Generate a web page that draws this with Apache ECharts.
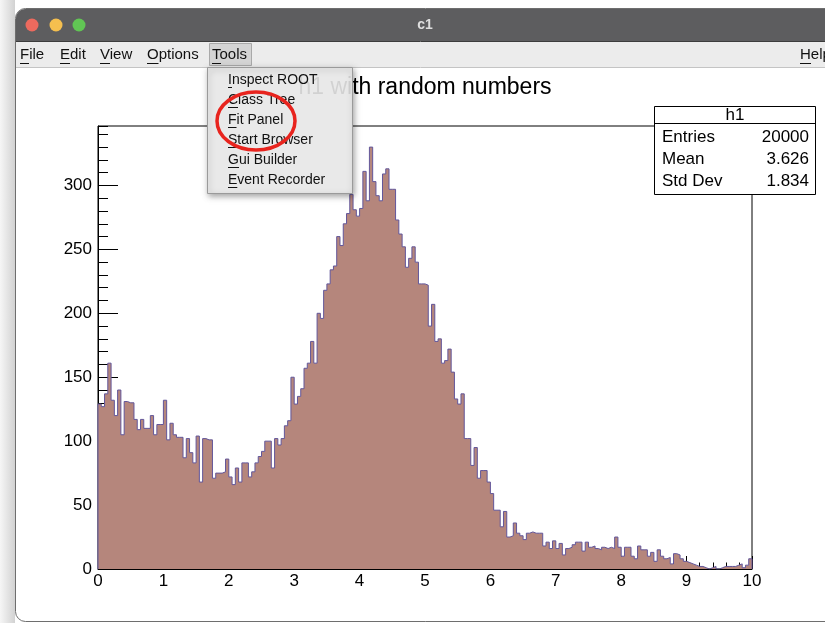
<!DOCTYPE html>
<html>
<head>
<meta charset="utf-8">
<script src="https://cdn.jsdelivr.net/npm/echarts@6/dist/echarts.min.js"></script>
<style>
html,body{margin:0;padding:0;background:#fff;}
#c{width:825px;height:623px;}
</style>
</head>
<body>
<div id="c"></div>
<script>
// ---- data ----
const histTitle = 'h1 with random numbers';
const xMin = 0, xMax = 10, nBins = 200;
const binCounts = [
129,127,137,161,132,120,140,105,131,130,130,117,109,117,110,110,120,105,113,113,
132,101,114,105,103,103,87,102,91,83,104,68,102,101,101,71,75,75,76,86,
72,66,79,68,83,83,72,76,83,88,92,100,100,79,102,97,102,112,116,150,
129,135,141,157,161,178,161,200,196,218,223,234,237,260,253,270,278,293,281,276,
282,311,288,330,303,292,288,309,313,297,297,273,262,252,236,243,252,240,223,223,
222,190,207,178,180,161,163,172,154,133,129,137,102,102,81,95,71,77,77,68,
59,46,46,33,45,25,26,36,28,26,23,28,29,28,28,28,18,21,16,22,
16,20,11,16,17,19,21,21,14,21,17,18,16,15,17,16,17,16,25,17,
10,17,17,10,8,18,15,15,10,13,6,15,10,8,9,4,12,11,8,6,
5,4,3,2,2,1,0,1,2,0,1,2,2,2,2,3,4,1,3,8
];
const xTickValues = [0,1,2,3,4,5,6,7,8,9,10];
const yTickValues = [0,50,100,150,200,250,300];
const statsName = 'h1';
const statsLabels = ['Entries','Mean','Std Dev'];
const statsValues = ['20000','3.626','1.834'];
const menuItems = ['File','Edit','View','Options','Tools'];
const toolsItems = ['Inspect ROOT','Class Tree','Fit Panel','Start Browser','Gui Builder','Event Recorder'];
const windowTitle = 'c1';

// ---- build ----
const binW = (xMax - xMin) / nBins;
const yTop = Math.max(...binCounts) * 1.05;
const stepData = [[xMin, 0]];
binCounts.forEach((v, i) => stepData.push([xMin + i * binW, v]));
stepData.push([xMax, binCounts[nBins - 1]]);
stepData.push([xMax, 0]);

const F = '"Liberation Sans", Arial, Helvetica, sans-serif';
const chart = echarts.init(document.getElementById('c'), null, {renderer: 'canvas'});

const graphics = [];
// shadow strip left of window
graphics.push({type:'rect', z:1, silent:true, shape:{x:0,y:0,width:15,height:623},
  style:{fill:new echarts.graphic.LinearGradient(0,0,1,0,[{offset:0,color:'#f6f6f6'},{offset:1,color:'#d2d2d2'}])}});
// window body
graphics.push({type:'rect', z:2, silent:true, shape:{x:15.5,y:8.5,width:830,height:613,r:10},
  style:{fill:'none', stroke:'#6e6e6e', lineWidth:1}});
// title bar
graphics.push({type:'rect', z:3, silent:true, shape:{x:16,y:9,width:830,height:32,r:[9,0,0,0]},
  style:{fill:'#5d5d5f'}});
graphics.push({type:'text', z:4, silent:true, x:425, y:25, style:{text:windowTitle, font:'bold 14px '+F, fill:'#dedede', textAlign:'center', textVerticalAlign:'middle'}});
[['#ed6a5e',32],['#f5bf4f',56],['#61c554',79]].forEach(([c,x]) => {
  graphics.push({type:'circle', z:4, silent:true, shape:{cx:x, cy:25, r:6.5}, style:{fill:c}});
});
// menu bar
graphics.push({type:'rect', z:3, silent:true, shape:{x:16,y:41,width:830,height:26}, style:{fill:'#ececec'}});
graphics.push({type:'line', z:4, silent:true, shape:{x1:16,y1:41.5,x2:825,y2:41.5}, style:{stroke:'#3c3c3c', lineWidth:1}});
graphics.push({type:'line', z:4, silent:true, shape:{x1:16,y1:67.5,x2:825,y2:67.5}, style:{stroke:'#c4c4c4', lineWidth:1}});
// Tools highlight
graphics.push({type:'rect', z:4, silent:true, shape:{x:209.5,y:43.5,width:42,height:22}, style:{fill:'#d4d4d4', stroke:'#a9a9a9', lineWidth:1}});
const menuX = [20,60,100,147,212];
const firstW = [9,10,10,11.5,9];
menuItems.forEach((t,i) => {
  graphics.push({type:'text', z:5, silent:true, x:menuX[i], y:55, style:{text:t, font:'15px '+F, fill:'#111', textVerticalAlign:'middle'}});
  graphics.push({type:'line', z:5, silent:true, shape:{x1:menuX[i],y1:63.5,x2:menuX[i]+firstW[i],y2:63.5}, style:{stroke:'#111', lineWidth:1}});
});
graphics.push({type:'text', z:5, silent:true, x:800, y:55, style:{text:'Help', font:'15px '+F, fill:'#111', textVerticalAlign:'middle'}});
graphics.push({type:'line', z:5, silent:true, shape:{x1:800,y1:63.5,x2:811,y2:63.5}, style:{stroke:'#111', lineWidth:1}});

// histogram title
graphics.push({type:'text', z:6, silent:true, x:425, y:88, style:{text:histTitle, font:'23px '+F, fill:'#000', textAlign:'center', textVerticalAlign:'middle'}});

// stats box
graphics.push({type:'rect', z:20, silent:true, shape:{x:654.5,y:106.5,width:161,height:88}, style:{fill:'#fff', stroke:'#000', lineWidth:1}});
graphics.push({type:'line', z:21, silent:true, shape:{x1:654.5,y1:123.5,x2:815.5,y2:123.5}, style:{stroke:'#000', lineWidth:1}});
graphics.push({type:'text', z:21, silent:true, x:735, y:115, style:{text:statsName, font:'17px '+F, fill:'#000', textAlign:'center', textVerticalAlign:'middle'}});
statsLabels.forEach((t,i) => {
  const yy = 137 + i*22;
  graphics.push({type:'text', z:21, silent:true, x:662, y:yy, style:{text:t, font:'17px '+F, fill:'#000', textVerticalAlign:'middle'}});
  graphics.push({type:'text', z:21, silent:true, x:809, y:yy, style:{text:statsValues[i], font:'17px '+F, fill:'#000', textAlign:'right', textVerticalAlign:'middle'}});
});

// Tools dropdown
graphics.push({type:'rect', z:30, silent:true, shape:{x:207.5,y:67.5,width:145,height:126},
  style:{fill:'#e9e9e9', stroke:'#9a9a9a', lineWidth:1, shadowBlur:6, shadowOffsetX:1, shadowOffsetY:2, shadowColor:'rgba(0,0,0,0.35)'}});
// title faintly visible through the translucent menu
graphics.push({type:'text', z:30.5, silent:true, x:425, y:88, style:{text:histTitle, font:'23px '+F, fill:'rgba(0,0,0,0.10)', textAlign:'center', textVerticalAlign:'middle'}});
const ddFirstW = [4,10,8.5,9.3,11,9.3];
toolsItems.forEach((t,i) => {
  const yy = 80 + i*20;
  graphics.push({type:'text', z:31, silent:true, x:228, y:yy, style:{text:t, font:'14px '+F, fill:'#111', textVerticalAlign:'middle'}});
  graphics.push({type:'line', z:31, silent:true, shape:{x1:228,y1:yy+7.5,x2:228+ddFirstW[i],y2:yy+7.5}, style:{stroke:'#111', lineWidth:1}});
});
// red ellipse annotation
graphics.push({type:'ellipse', z:40, silent:true, shape:{cx:256, cy:121, rx:39, ry:29}, style:{fill:'none', stroke:'#e8241e', lineWidth:3.5}});

const option = {
  animation: false,
  backgroundColor: '#fff',
  grid: {left:98, right:73, top:126, bottom:54, show:true, borderColor:'#000', borderWidth:1, backgroundColor:'#fff'},
  xAxis: {
    type:'value', min:xMin, max:xMax, interval:1,
    axisLine:{show:true, onZero:false, lineStyle:{color:'#000', width:1}},
    axisTick:{show:true, inside:true, length:13, lineStyle:{color:'#000'}},
    minorTick:{show:true, splitNumber:5, length:6.5, lineStyle:{color:'#000'}},
    axisLabel:{show:true, margin:4, fontSize:17, color:'#000', fontFamily:F,
      formatter:(v)=> xTickValues.includes(v) ? String(v) : ''},
    splitLine:{show:false}, minorSplitLine:{show:false}
  },
  yAxis: [{
    type:'value', min:0, max:yTop, interval:50,
    axisLine:{show:true, onZero:false, lineStyle:{color:'#000', width:1}},
    axisTick:{show:true, inside:true, length:20, lineStyle:{color:'#000'}},
    axisLabel:{show:true, margin:6, fontSize:17, color:'#000', fontFamily:F, showMaxLabel:false,
      formatter:(v)=> yTickValues.includes(v) ? String(v) : ''},
    splitLine:{show:false}
  },{
    type:'value', min:0, max:yTop, interval:10, position:'left',
    axisLine:{show:false},
    axisTick:{show:true, inside:true, length:10, lineStyle:{color:'#000'}},
    axisLabel:{show:false},
    splitLine:{show:false}
  }],
  series: [{
    type:'line', step:'end', data:stepData, yAxisIndex:0,
    symbol:'none', showSymbol:false, silent:true,
    lineStyle:{color:'#62569a', width:1},
    areaStyle:{color:'#b5867c', opacity:1},
    z:2
  }],
  graphic: graphics
};
chart.setOption(option);
</script>
</body>
</html>
